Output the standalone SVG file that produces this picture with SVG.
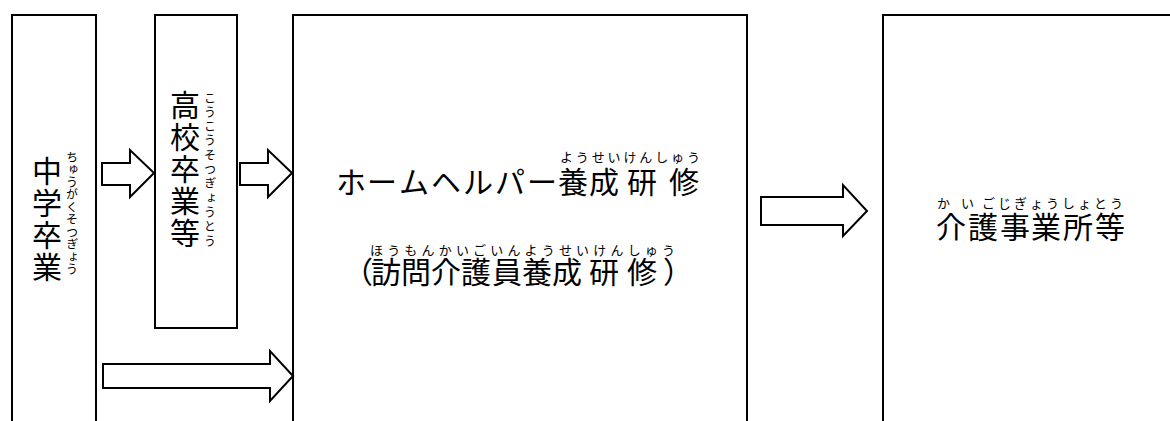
<svg xmlns="http://www.w3.org/2000/svg" width="1170" height="421" viewBox="0 0 1170 421">
<style>
.box{fill:#fff;stroke:#000;stroke-width:2}
.arr{fill:#fff;stroke:#000;stroke-width:2;stroke-linejoin:miter}
text{font-family:"Noto Sans CJK JP","Noto Sans CJK SC",sans-serif;fill:#000}
.big{font-size:30px}
.rb{font-size:12px}
.rbh{font-size:13px}
.v{writing-mode:vertical-rl}
</style>
<rect width="1170" height="421" fill="#fff"/>
<g id="node-chugaku">
<rect class="box" x="12" y="15" width="84" height="430"/>
<text class="big v" x="47" y="156" style="letter-spacing:2px">中学卒業</text>
<text class="rb v" x="72" y="151" style="letter-spacing:0.5px">ちゅうがくそつぎょう</text>
</g>
<g id="node-koko">
<rect class="box" x="155" y="15" width="82" height="313"/>
<text class="big v" x="185" y="90" style="letter-spacing:2px">高校卒業等</text>
<text class="rb v" x="210" y="92" style="letter-spacing:2.3px">こうこうそつぎょうとう</text>
</g>
<g id="node-kenshu">
<rect class="box" x="293" y="15" width="454" height="430"/>
<text class="big" x="336 367 399 431 463 495 527 558 589 627 669" y="193">ホームヘルパー養成研修</text>
<text class="rbh" x="560" y="162" textLength="140" lengthAdjust="spacing">ようせいけんしゅう</text>
<text class="big" x="343 371 401 431 461 492 522 552 589 627 663" y="283">（訪問介護員養成研修）</text>
<text class="rbh" x="370" y="255" textLength="305" lengthAdjust="spacing">ほうもんかいごいんようせいけんしゅう</text>
</g>
<g id="node-jigyosho">
<rect class="box" x="883" y="15" width="300" height="430"/>
<text class="big" x="936 968 1000 1031 1063 1095" y="238">介護事業所等</text>
<text class="rbh" x="937 961 982 998 1014 1030 1046 1062 1078 1094 1110" y="208">かいごじぎょうしょとう</text>
</g>
<g id="connectors">
<polygon class="arr" points="102,163 130,163 130,150 154,173 130,197 130,185 102,185"/>
<polygon class="arr" points="240,163 268,163 268,150 292,173 268,197 268,185 240,185"/>
<polygon class="arr" points="103,364 270,364 270,351 293,376 270,401 270,388 103,388"/>
<polygon class="arr" points="761,197 843,197 843,185 867,211 843,236 843,225 761,225"/>
</g>
</svg>
